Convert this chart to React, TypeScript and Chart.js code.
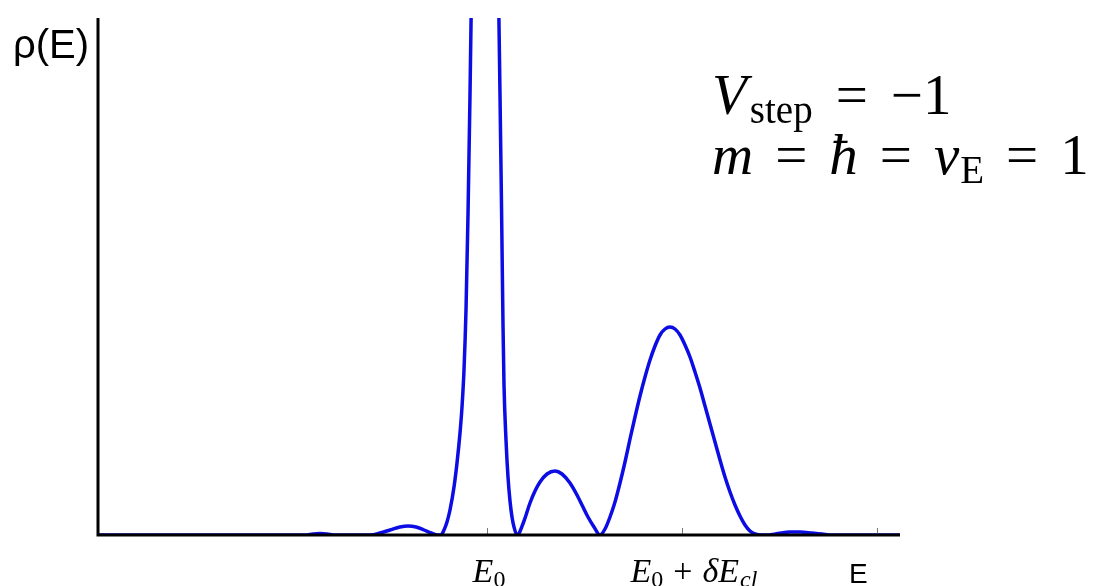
import React, { useEffect, useRef } from "react";
import { Chart, registerables } from "chart.js";

Chart.register(...registerables);

// Energy (arbitrary units; E0 at 389, E0 + δE_cl at 584)
const energy = [
  0, 202, 207, 215, 222, 229, 237, 272, 282, 292, 302, 310, 318, 326, 333, 339,
  343, 346, 349, 352, 356, 359, 362, 364, 366, 368, 370, 372, 374, 378, 387, 396,
  400, 402, 403.5, 405, 406, 408, 410, 412, 414, 416, 419,
  426, 432, 437, 442, 449, 457, 464, 472, 479, 485, 490, 496, 502,
  507, 512, 517, 522, 527, 532, 537, 542, 547, 552, 557, 562, 567, 572,
  577, 582, 587, 592, 597, 602, 607, 612, 617, 622, 627, 632, 637, 642, 647, 652, 657, 664,
  670, 680, 692, 702, 714, 724, 734, 802,
];

// Density of states ρ(E) (arbitrary units; plot clipped at 5.17)
const rho = [
  0, 0, 0, 0.01, 0.015, 0.01, 0, 0, 0.02, 0.05, 0.08, 0.09, 0.08, 0.05, 0.02, 0,
  0, 0.05, 0.13, 0.25, 0.48, 0.72, 1.02, 1.28, 1.65, 2.25, 3.2, 4.4, 5.8, 8.0, 9.5, 8.0,
  5.8, 4.4, 3.3, 2.1, 1.5, 0.95, 0.58, 0.34, 0.18, 0.08, 0,
  0.14, 0.32, 0.44, 0.53, 0.61, 0.64, 0.61, 0.52, 0.4, 0.28, 0.18, 0.08, 0,
  0.06, 0.18, 0.33, 0.52, 0.73, 0.96, 1.18, 1.39, 1.58, 1.75, 1.89, 2.0, 2.06, 2.08,
  2.06, 2.0, 1.9, 1.78, 1.63, 1.47, 1.29, 1.11, 0.93, 0.75, 0.58, 0.43, 0.3, 0.19, 0.1, 0.04, 0.01, 0,
  0, 0.015, 0.03, 0.03, 0.02, 0.01, 0, 0,
];

const xRange = [0, 802];
const yRange = [0, 5.17];
const tickValues = [389, 584, 779];
const tickLabelOffsets = [2, 12];

type Run = { t: string; f: string; dy?: number; gap?: number };

const SERIF = '"Liberation Serif", "DejaVu Serif", serif';
const SANS = '"Liberation Sans", Arial, sans-serif';

const tickLabels: Run[][] = [
  [
    { t: "E", f: `italic 34px ${SERIF}` },
    { t: "0", f: `24px ${SERIF}`, dy: 5, gap: 0 },
  ],
  [
    { t: "E", f: `italic 34px ${SERIF}` },
    { t: "0", f: `24px ${SERIF}`, dy: 5, gap: 0 },
    { t: "+", f: `34px ${SERIF}`, gap: 10 },
    { t: "δE", f: `italic 34px ${SERIF}`, gap: 10 },
    { t: "cl", f: `italic 24px ${SERIF}`, dy: 5, gap: 1 },
  ],
];

const annotationLines: Run[][] = [
  [
    { t: "V", f: `italic 57px ${SERIF}` },
    { t: "step", f: `39px ${SERIF}`, dy: 9, gap: 3 },
    { t: "=", f: `57px ${SERIF}`, gap: 23 },
    { t: "−1", f: `57px ${SERIF}`, gap: 23 },
  ],
  [
    { t: "m", f: `italic 57px ${SERIF}` },
    { t: "=", f: `57px ${SERIF}`, gap: 22 },
    { t: "ħ", f: `italic 57px ${SERIF}`, gap: 22 },
    { t: "=", f: `57px ${SERIF}`, gap: 22 },
    { t: "v", f: `italic 57px ${SERIF}`, gap: 22 },
    { t: "E", f: `39px ${SERIF}`, dy: 9, gap: 1 },
    { t: "=", f: `57px ${SERIF}`, gap: 22 },
    { t: "1", f: `57px ${SERIF}`, gap: 22 },
  ],
];

function runsWidth(ctx: CanvasRenderingContext2D, runs: Run[]) {
  let w = 0;
  for (const r of runs) {
    ctx.font = r.f;
    w += (r.gap || 0) + ctx.measureText(r.t).width;
  }
  return w;
}

function drawRuns(ctx: CanvasRenderingContext2D, runs: Run[], x: number, y: number) {
  let cx = x;
  for (const r of runs) {
    ctx.font = r.f;
    cx += r.gap || 0;
    ctx.fillText(r.t, cx, y + (r.dy || 0));
    cx += ctx.measureText(r.t).width;
  }
}

const decorPlugin = {
  id: "decor",
  afterDatasetsDraw(chart: any) {
    const ctx: CanvasRenderingContext2D = chart.ctx;
    const xs = chart.scales.x;
    const ys = chart.scales.y;
    const x0 = xs.getPixelForValue(xRange[0]);
    const x1 = xs.getPixelForValue(xRange[1]);
    const yb = ys.getPixelForValue(0);
    const yt = ys.getPixelForValue(yRange[1]);
    ctx.save();
    // ticks
    ctx.strokeStyle = "#777";
    ctx.lineWidth = 1;
    for (const v of tickValues) {
      const px = Math.round(xs.getPixelForValue(v)) + 0.5;
      ctx.beginPath();
      ctx.moveTo(px, yb);
      ctx.lineTo(px, yb - 7);
      ctx.stroke();
    }
    // axes
    ctx.strokeStyle = "#000";
    ctx.lineWidth = 3;
    ctx.beginPath();
    ctx.moveTo(x0, yt);
    ctx.lineTo(x0, yb + 1.5);
    ctx.moveTo(x0 - 1.5, yb);
    ctx.lineTo(x1, yb);
    ctx.stroke();
    // text
    ctx.fillStyle = "#000";
    ctx.textBaseline = "alphabetic";
    ctx.textAlign = "left";
    tickLabels.forEach((runs, i) => {
      const w = runsWidth(ctx, runs);
      const cx = xs.getPixelForValue(tickValues[i]) + tickLabelOffsets[i];
      drawRuns(ctx, runs, cx - w / 2, 582);
    });
    ctx.font = `28px ${SANS}`;
    ctx.fillText("E", 849, 583);
    ctx.font = `40px ${SANS}`;
    ctx.fillText("ρ(E)", 13, 58);
    drawRuns(ctx, annotationLines[0], 712, 114);
    drawRuns(ctx, annotationLines[1], 712, 174);
    ctx.restore();
  },
};

export default function App() {
  const ref = useRef<HTMLCanvasElement | null>(null);
  useEffect(() => {
    document.body.style.margin = "0";
    const canvas = ref.current;
    if (!canvas) return;
    const chart = new Chart(canvas, {
      type: "line",
      data: {
        datasets: [
          {
            data: energy.map((e, i) => ({ x: e, y: rho[i] })),
            borderColor: "rgb(12,12,228)",
            borderWidth: 3.5,
            pointRadius: 0,
            fill: false,
            cubicInterpolationMode: "monotone",
          },
        ],
      },
      options: {
        responsive: false,
        animation: false,
        devicePixelRatio: 1,
        layout: { padding: { left: 98, right: 197, top: 18, bottom: 51 } },
        plugins: { legend: { display: false }, tooltip: { enabled: false } },
        scales: {
          x: { type: "linear", display: false, min: xRange[0], max: xRange[1] },
          y: { type: "linear", display: false, min: yRange[0], max: yRange[1] },
        },
      },
      plugins: [decorPlugin],
    });
    return () => chart.destroy();
  }, []);
  return (
    <div style={{ width: 1097, height: 586, background: "#fff" }}>
      <canvas ref={ref} width={1097} height={586} style={{ width: 1097, height: 586, display: "block" }} />
    </div>
  );
}
